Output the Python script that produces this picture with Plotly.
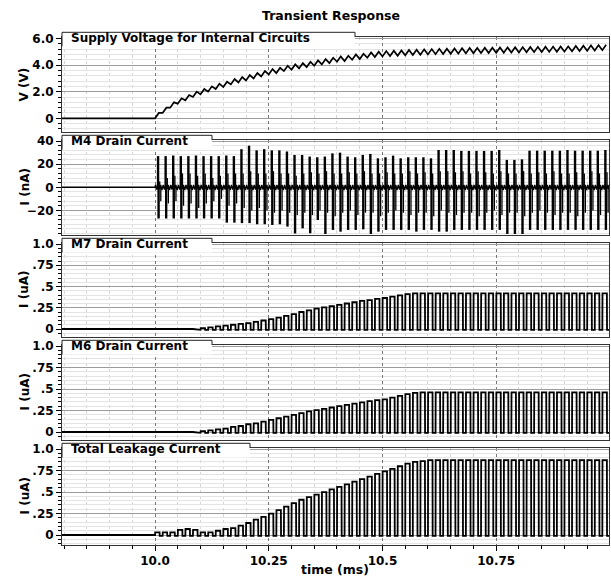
import plotly.graph_objects as go

# ---------------- data ----------------
chart_title = "Transient Response"
panel_titles = ["Supply Voltage for Internal Circuits", "M4 Drain Current",
                "M7 Drain Current", "M6 Drain Current", "Total Leakage Current"]
y_titles = ["V (V)", "I (nA)", "I (uA)", "I (uA)", "I (uA)"]
x_title = "time (ms)"
x_tickvals = [10.0, 10.25, 10.5, 10.75]
x_ticktext = ["10.0", "10.25", "10.5", "10.75"]
y_tickvals = [[0, 2, 4, 6], [-20, 0, 20, 40],
              [0, 0.25, 0.5, 0.75, 1.0], [0, 0.25, 0.5, 0.75, 1.0], [0, 0.25, 0.5, 0.75, 1.0]]
y_ticktext = [["0", "2.0", "4.0", "6.0"], ["\u221220", "0", "20", "40"],
              ["0", ".25", ".5", ".75", "1.0"], ["0", ".25", ".5", ".75", "1.0"],
              ["0", ".25", ".5", ".75", "1.0"]]

t_start_ms = 9.7955
t_stop_ms = 10.998
switch_on_ms = 10.0
cycle_ms = 0.016667          # 15 pulses per 0.25 ms

# supply voltage: trough / peak of each ripple cycle (V)
vsup_trough = [0.0, 0.4, 0.8, 1.1, 1.35, 1.6, 1.8, 2.0, 2.2, 2.35, 2.55, 2.7, 2.85, 3.0, 3.15,
               3.3, 3.4, 3.55, 3.65, 3.75, 3.85, 3.95, 4.05, 4.15, 4.25, 4.3, 4.4, 4.45, 4.55, 4.6,
               4.65, 4.68, 4.7, 4.73, 4.76, 4.78, 4.8, 4.82, 4.83, 4.85, 4.86, 4.88, 4.89, 4.9, 4.91,
               4.92, 4.93, 4.94, 4.95, 4.96, 4.97, 4.98, 4.99, 5.0, 5.01, 5.04, 5.06, 5.08, 5.1, 5.12]
vsup_peak = [0.4, 0.8, 1.2, 1.5, 1.75, 2.0, 2.2, 2.4, 2.6, 2.75, 2.95, 3.1, 3.25, 3.4, 3.55,
             3.7, 3.8, 3.95, 4.05, 4.15, 4.25, 4.35, 4.45, 4.55, 4.65, 4.7, 4.8, 4.85, 4.95, 5.0,
             5.05, 5.08, 5.1, 5.13, 5.16, 5.18, 5.2, 5.22, 5.23, 5.25, 5.26, 5.28, 5.29, 5.3, 5.31,
             5.32, 5.33, 5.34, 5.35, 5.36, 5.37, 5.38, 5.39, 5.4, 5.41, 5.44, 5.46, 5.48, 5.5, 5.52]

# M4 drain current spikes per cycle (nA)
m4_pos_nA = [27, 27, 27.5, 27, 27, 27.5, 27, 27, 27, 27.5, 27,
             33, 36, 32, 33, 32, 32, 31, 28,
             28, 26.6, 26, 26.6, 29.4, 30, 26.6, 26, 28, 28.9, 25.1, 26, 27.4, 25.1, 26, 26, 26,
             25.1, 32.3, 32.3, 32.3, 31.5, 31.5, 31.5, 31.5, 31.5, 32.3, 23.7, 23.7, 24.2, 31.7,
             31.7, 31.7, 31.7, 31.7, 32.3, 31.7, 31.7, 31.7, 31.7, 32.3]
m4_neg_nA = [-27, -27, -27, -27, -27, -27, -27, -27, -27, -30.6, -30.6, -31, -31, -32, -32,
             -32.6, -32, -34, -40,
             -35.5, -39.8, -28.3, -40.4, -36.9, -38.4, -36.9, -36.9, -36.4, -40.4, -38.4, -36.9,
             -36.9, -36.9, -36.9, -38.4, -36.9, -36.9, -38.4, -38.4, -36.9, -36.9, -36.9, -36.9,
             -36.9, -36.9, -36.9, -40.4, -40.4, -40.4, -36.9, -36.9, -36.9, -36.9, -36.9, -36.9,
             -36.9, -36.9, -36.9, -36.9, -36.9]
m4_pos2_nA = [5, 8, 10, 12, 12, 10, 12, 8, 10, 12, 12, 12, 14, 12, 12, 14, 12, 12, 10,
              12, 13, 12, 14, 12, 12, 13, 12, 14, 12, 12, 13, 12, 12, 14, 12, 13, 12, 14, 14,
              13, 14, 12, 14, 13, 12, 14, 12, 12, 14, 12, 13, 12, 14, 12, 12, 13, 12, 14, 12, 13]
m4_neg2_nA = [-12, -14, -12, -16, -14, -18, -14, -12, -10, -16, -14, -18, -20, -18, -20, -22,
              -20, -22, -24,
              -22, -24, -20, -22, -25, -22, -20, -24, -22, -22, -25, -22, -20, -22, -24, -22, -22,
              -25, -20, -22, -24, -22, -22, -25, -22, -20, -24, -22, -22, -25, -22, -20, -22, -24,
              -22, -22, -25, -22, -20, -24, -22]
m4_chatter_nA = [2, -2, 2.5, -1.5, 2, -2.5]

# pulse heights per cycle (uA)
m7_peak_uA = [0, 0, 0, 0, 0, 0,
              0.01, 0.02, 0.03, 0.04, 0.05, 0.06, 0.07, 0.085, 0.10, 0.117,
              0.135, 0.155, 0.175, 0.20, 0.22, 0.24, 0.255, 0.27, 0.285, 0.30,
              0.315, 0.33, 0.34, 0.355, 0.365, 0.38, 0.395, 0.41, 0.42] + [0.42] * 25
m6_peak_uA = [0, 0, 0, 0, 0, 0,
              0.01, 0.02, 0.03, 0.04, 0.06, 0.07, 0.09, 0.10, 0.12, 0.14,
              0.16, 0.18, 0.20, 0.22, 0.24, 0.255, 0.27, 0.285, 0.30, 0.315,
              0.33, 0.345, 0.36, 0.37, 0.38, 0.40, 0.42, 0.44, 0.455] + [0.46] * 25
total_peak_uA = [0.03, 0.03, 0.03, 0.06, 0.07, 0.06, 0.03, 0.03, 0.05, 0.07, 0.08,
                 0.11, 0.14, 0.18, 0.21, 0.25, 0.29, 0.33, 0.37, 0.41, 0.44,
                 0.47, 0.50, 0.53, 0.56, 0.59, 0.62, 0.65, 0.68, 0.71, 0.74,
                 0.77, 0.80, 0.83, 0.85, 0.86, 0.87] + [0.87] * 23
pulse_low_uA = -0.01


# ---------------- waveform assembly ----------------
def supply_wave():
    xs, ys = [t_start_ms, switch_on_ms], [0, 0]
    for k, (lo, hi) in enumerate(zip(vsup_trough, vsup_peak)):
        t0 = switch_on_ms + k * cycle_ms
        xs += [t0, t0 + 0.5 * cycle_ms]
        ys += [lo, hi]
    return xs, ys


def m4_band():
    xs, ys = [t_start_ms, switch_on_ms], [0, 0]
    c = m4_chatter_nA
    for k in range(len(m4_pos_nA)):
        t0 = switch_on_ms + k * cycle_ms
        for j, v in enumerate(c):
            xs.append(t0 + (j + 0.5) / len(c) * cycle_ms)
            ys.append(v)
    xs.append(t_stop_ms)
    ys.append(0)
    return xs, ys


def m4_spikes(series):
    xs, ys = [], []
    for k in range(len(m4_pos_nA)):
        t0 = switch_on_ms + k * cycle_ms
        for f, vals in series:
            xs += [t0 + f * cycle_ms, t0 + f * cycle_ms, None]
            ys += [0, vals[k], None]
    return xs, ys


def pulse_wave(peaks):
    xs, ys = [t_start_ms, switch_on_ms], [0, 0]
    for k, p in enumerate(peaks):
        t0 = switch_on_ms + k * cycle_ms
        if p == 0:
            xs.append(t0)
            ys.append(0)
            continue
        xs += [t0, t0 + 0.02 * cycle_ms, t0 + 0.60 * cycle_ms, t0 + 0.62 * cycle_ms]
        ys += [pulse_low_uA, p, p, pulse_low_uA]
    xs.append(t_stop_ms)
    ys.append(pulse_low_uA)
    return xs, ys


# (panel index, waveform, line width)
traces = [(0, supply_wave(), 1.7), (1, m4_band(), 1.4),
          (1, m4_spikes([(0.62, m4_pos2_nA), (0.76, m4_neg2_nA)]), 1.3),
          (1, m4_spikes([(0.40, m4_pos_nA), (0.47, m4_neg_nA)]), 2.4),
          (2, pulse_wave(m7_peak_uA), 1.8), (3, pulse_wave(m6_peak_uA), 1.8),
          (4, pulse_wave(total_peak_uA), 1.8)]

# ---------------- layout geometry (pixels of 611x576 page) ----------------
W, H = 611, 576
L, R, T, B = 62, 2, 37, 31
plot_h = H - T - B
frame_top = [37, 140, 243, 345, 448]
frame_bot = [132, 235, 337, 440, 545]
y_ranges = [[-1.03, 6.11], [-41.3, 40.95], [-0.094, 1.012], [-0.093, 1.012], [-0.116, 1.012]]
y_minor = [0.4, 4, 0.05, 0.05, 0.05]
tab_right = [355, 212, 212, 212, 250]


def py(p):
    return (H - B - p) / plot_h


def px(p):
    return (p - L) / (W - L - R)


FONT = "DejaVu Sans"
fig = go.Figure()
for i, (xs, ys), w in traces:
    n = i + 1
    fig.add_trace(go.Scatter(x=xs, y=ys, mode="lines",
                             line=dict(color="black", width=w),
                             xaxis="x" if n == 1 else f"x{n}",
                             yaxis="y" if n == 1 else f"y{n}",
                             hoverinfo="skip", showlegend=False))

layout = dict(width=W, height=H, margin=dict(l=L, r=R, t=T, b=B),
              plot_bgcolor="white", paper_bgcolor="white",
              font=dict(family=FONT, size=12, color="black"), showlegend=False)

shapes, annotations = [], []
for i in range(5):
    n = i + 1
    xk = "xaxis" if n == 1 else f"xaxis{n}"
    yk = "yaxis" if n == 1 else f"yaxis{n}"
    bottom = (n == 5)
    layout[xk] = dict(
        domain=[0, 1], anchor="y" if n == 1 else f"y{n}",
        range=[t_start_ms, t_stop_ms],
        tickmode="array", tickvals=x_tickvals, ticktext=x_ticktext,
        showticklabels=bottom, ticks="outside" if bottom else "", ticklen=5,
        tickcolor="black", tickfont=dict(family=FONT, size=12, weight="bold"),
        showline=True, linecolor="#333", linewidth=1, mirror=True,
        showgrid=True, gridcolor="#777", griddash="dot", gridwidth=1,
        zeroline=False,
        minor=dict(dtick=0.05, tick0=10.0, showgrid=True, gridcolor="#d6d6d6",
                   ticks="outside" if bottom else "", ticklen=3, tickcolor="black"),
    )
    if n > 1:
        layout[xk]["matches"] = "x"
    dom = [max(0, py(frame_bot[i])), min(1, py(frame_top[i]))]
    layout[yk] = dict(
        domain=dom, anchor="x" if n == 1 else f"x{n}", range=y_ranges[i],
        tickmode="array", tickvals=y_tickvals[i], ticktext=y_ticktext[i],
        ticks="outside", ticklen=5, tickcolor="black",
        tickfont=dict(family=FONT, size=12, weight="bold"),
        showline=True, linecolor="#333", linewidth=1, mirror=True,
        showgrid=True, gridcolor="#9c9c9c", gridwidth=1, zeroline=False,
        minor=dict(dtick=y_minor[i], tick0=0, showgrid=True, gridcolor="#e4e4e4",
                   ticks="outside", ticklen=3, tickcolor="black"),
    )
    # title tab
    t_top = frame_top[i] - 4.7
    t_bot = frame_top[i] + 9.5
    x0, x1 = px(L), px(tab_right[i])
    shapes.append(dict(type="rect", xref="paper", yref="paper", x0=x0, x1=x1,
                       y0=py(t_bot), y1=py(t_top), fillcolor="white", line=dict(width=0),
                       layer="above"))
    shapes.append(dict(type="path", xref="paper", yref="paper",
                       path=f"M {x0},{py(t_bot)} L {x0},{py(t_top)} L {x1},{py(t_top)} L {x1},{py(frame_top[i])}",
                       line=dict(color="#222", width=1), layer="above"))
    annotations.append(dict(text=panel_titles[i], xref="paper", yref="paper",
                            x=px(L + 7), y=py(t_top + 6), xanchor="left", yanchor="middle",
                            showarrow=False, font=dict(family=FONT, size=12, weight="bold")))
    annotations.append(dict(text=y_titles[i], xref="paper", yref="paper",
                            x=px(24), y=py((frame_top[i] + frame_bot[i]) / 2),
                            xanchor="center", yanchor="middle", textangle=-90,
                            showarrow=False, font=dict(family=FONT, size=12, weight="bold")))

annotations.append(dict(text=chart_title, xref="paper", yref="paper", x=px(331), y=py(15),
                        xanchor="center", yanchor="middle", showarrow=False,
                        font=dict(family=FONT, size=12.5, weight="bold")))
annotations.append(dict(text=x_title, xref="paper", yref="paper", x=px(335), y=py(569),
                        xanchor="center", yanchor="middle", showarrow=False,
                        font=dict(family=FONT, size=12.5, weight="bold")))
layout["shapes"] = shapes
layout["annotations"] = annotations
fig.update_layout(**layout)
fig.write_html("out.html", config={"displayModeBar": False},
               post_script="document.body.style.margin='0';document.body.style.overflow='hidden';")
